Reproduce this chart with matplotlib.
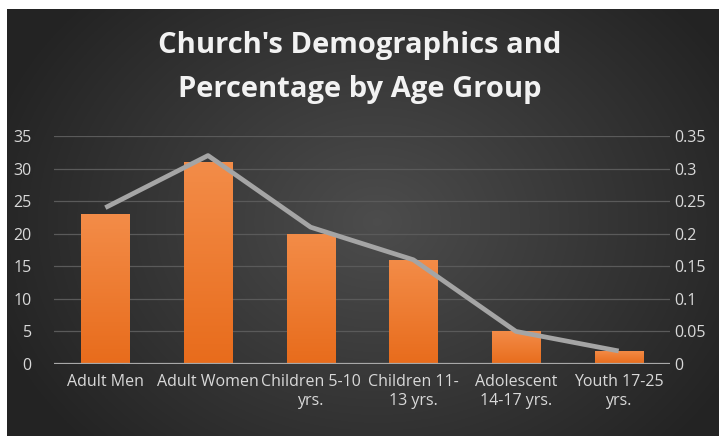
import numpy as np
import matplotlib
matplotlib.use("Agg")
import matplotlib.pyplot as plt
from matplotlib.colors import LinearSegmentedColormap

categories = ["Adult Men", "Adult Women", "Children 5-10\nyrs.",
              "Children 11-\n13 yrs.", "Adolescent\n14-17 yrs.", "Youth 17-25\nyrs."]
counts = [23, 31, 20, 16, 5, 2]
share = [0.24, 0.32, 0.21, 0.16, 0.05, 0.02]
left_ticks = [0, 5, 10, 15, 20, 25, 30, 35]
right_ticks = [0, 0.05, 0.1, 0.15, 0.2, 0.25, 0.3, 0.35]
right_labels = ["0", "0.05", "0.1", "0.15", "0.2", "0.25", "0.3", "0.35"]

W, H = 719, 436
plt.rcParams["font.family"] = ["Open Sans", "DejaVu Sans"]
fig = plt.figure(figsize=(W / 100, H / 100), dpi=100)
fig.patch.set_facecolor("white")

# dark radial background
bg = fig.add_axes([7 / W, 0, 1 - 7 / W, 1 - 9 / H])
bg.axis("off")
yy, xx = np.mgrid[0:1:300j, 0:1:500j]
r = np.sqrt(((xx - 0.52) / 0.6) ** 2 + ((yy - 0.5) / 0.8) ** 2)
shade = np.clip(0.30 - 0.17 * r, 0.14, 0.30)
bg.imshow(np.dstack([shade] * 3), extent=[0, 1, 0, 1], aspect="auto", origin="lower")

ax = fig.add_axes([54 / W, 1 - 364 / H, (670 - 54) / W, (364 - 136) / H])
ax.set_facecolor("none")
x = np.arange(len(categories))
bw = 0.47
bars = ax.bar(x, counts, width=bw, color="#f07d2c", zorder=3)
orange = LinearSegmentedColormap.from_list("or", ["#e86c1c", "#f38c48"])
grad = np.linspace(0, 1, 100).reshape(-1, 1)
for b in bars:
    im = ax.imshow(grad, cmap=orange, origin="lower", aspect="auto", zorder=3,
                   extent=[b.get_x(), b.get_x() + b.get_width(), 0, b.get_height()])
    im.set_clip_path(b)
ax.set_xlim(-0.5, len(categories) - 0.5)
ax.set_ylim(0, 35)
ax.set_yticks(left_ticks)
ax.set_yticklabels([str(t) for t in left_ticks])
ax.set_xticks(x)
ax.set_xticklabels(categories, linespacing=1.25)
ax.grid(axis="y", color="#5a5a5a", lw=0.9, zorder=0)
ax.axhline(0, color="#a8a8a8", lw=1.6, zorder=4)
for s in ax.spines.values():
    s.set_visible(False)
ax.tick_params(length=0, colors="#d9d9d9", labelsize=11.5)
ax.tick_params(axis="y", pad=16)
ax.tick_params(axis="x", pad=7)

ax2 = ax.twinx()
ax2.plot(x, share, color="#a5a5a5", lw=3.4, zorder=5, solid_capstyle="butt")
ax2.set_ylim(0, 0.35)
ax2.set_yticks(right_ticks)
ax2.set_yticklabels(right_labels)
for s in ax2.spines.values():
    s.set_visible(False)
ax2.tick_params(length=0, colors="#d9d9d9", labelsize=11.5, pad=3)

fig.text(0.5, 1 - 46 / H, "Church's Demographics and", ha="center", va="center",
         color="#f2f2f2", fontsize=21, fontweight="bold")
fig.text(0.5, 1 - 89 / H, "Percentage by Age Group", ha="center", va="center",
         color="#f2f2f2", fontsize=21, fontweight="bold")

fig.savefig("out.png", dpi=100, facecolor=fig.get_facecolor())
